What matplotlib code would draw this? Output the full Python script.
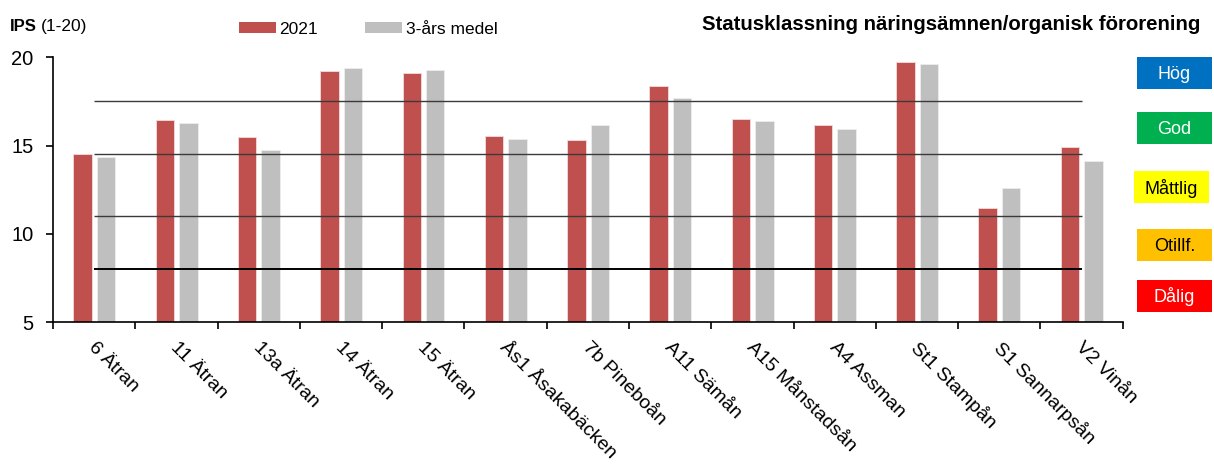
import matplotlib
matplotlib.use("Agg")
import matplotlib.pyplot as plt
import matplotlib.transforms as mtransforms
from matplotlib.patches import Rectangle
import numpy as np

plt.rcParams['font.family'] = ['Liberation Sans', 'DejaVu Sans']

# Sites and IPS values
sites = ["6 Ätran", "11 Ätran", "13a Ätran", "14 Ätran", "15 Ätran",
         "Ås1 Åsakabäcken", "7b Pineboån", "A11 Sämån", "A15 Månstadsån",
         "A4 Assman", "St1 Stampån", "S1 Sannarpsån", "V2 Vinån"]
ips_2021 = [14.5, 16.45, 15.47, 19.2, 19.09, 15.53, 15.34, 18.39, 16.5,
            16.15, 19.75, 11.45, 14.94]
ips_3yr = [14.35, 16.26, 14.73, 19.41, 19.26, 15.36, 16.15, 17.69, 16.39,
           15.96, 19.6, 12.62, 14.11]
series_labels = ["2021", "3-års medel"]

# Class boundaries (IPS)
class_limits = [17.5, 14.5, 11.0, 8.0]
class_names = ["Hög", "God", "Måttlig", "Otillf.", "Dålig"]
class_colors = ["#0070C0", "#00B050", "#FFFF00", "#FFC000", "#FF0000"]
class_text_colors = ["white", "white", "black", "black", "white"]

yticks = [5, 10, 15, 20]

W, H = 1214, 465
fig = plt.figure(figsize=(W / 100, H / 100), dpi=100)
ax = fig.add_axes([53 / W, 1 - 322.3 / H, (1122.7 - 53) / W, (322.3 - 57.3) / H])

red = "#C0504D"
grey = "#BFBFBF"
x = np.arange(len(sites))
bw = 0.225
ax.bar(x - 0.14, ips_2021, width=bw, color=red, edgecolor="#F2DCDB",
       linewidth=0.6, zorder=2)
ax.bar(x + 0.145, ips_3yr, width=bw, color=grey, edgecolor="#EDEDED",
       linewidth=0.6, zorder=2)

# Class boundary lines
for lim in class_limits:
    lw = 1.4 if lim == 8.0 else 1.0
    col = "black" if lim == 8.0 else "#3a3a3a"
    ax.hlines(lim, 0, len(sites) - 1, color=col, linewidth=lw, zorder=3)

ax.set_xlim(-0.5, len(sites) - 0.5)
ax.set_ylim(5, 20)
ax.set_yticks(yticks)
ax.set_yticklabels([str(t) for t in yticks], fontsize=14.5)
ax.set_xticks(np.arange(len(sites) + 1) - 0.5)
ax.set_xticklabels([])
ax.tick_params(axis="both", direction="out", length=5, width=1.2, color="black")
ax.tick_params(axis="y", pad=9)
for side in ("top", "right"):
    ax.spines[side].set_visible(False)
for side in ("left", "bottom"):
    ax.spines[side].set_linewidth(1.2)
    ax.spines[side].set_color("black")

# Rotated site labels
base = mtransforms.blended_transform_factory(ax.transData, ax.transAxes)
offs = mtransforms.ScaledTranslation(-3 / 100, -23 / 100, fig.dpi_scale_trans)
for xi, name in zip(x, sites):
    ax.text(xi, 0, name, transform=base + offs, rotation=-45,
            rotation_mode="anchor", ha="left", va="center", fontsize=14)

# Header texts
fig.text(10 / W, 1 - 31 / H, "IPS", fontsize=12, fontweight="bold",
         ha="left", va="baseline")
fig.text(40.7 / W, 1 - 31 / H, "(1-20)", fontsize=12.5, ha="left",
         va="baseline")
fig.text(1200 / W, 1 - 30 / H, "Statusklassning näringsämnen/organisk förorening",
         fontsize=14.7, fontweight="bold", ha="right", va="baseline")

# Legend
leg_items = [(238.7, red, series_labels[0]), (365, grey, series_labels[1])]
for lx, col, lab in leg_items:
    fig.add_artist(Rectangle((lx / W, 1 - 33 / H), 37 / W, 11 / H,
                             transform=fig.transFigure, facecolor=col,
                             edgecolor="none"))
    fig.text((lx + 40.5) / W, 1 - 34.3 / H, lab, fontsize=12.5, ha="left",
             va="baseline")

# Status class boxes
boxes = [(1137, 56.7), (1137, 111.7), (1134, 171), (1137, 228.7), (1137, 280)]
for (bx, by), name, col, tcol in zip(boxes, class_names, class_colors,
                                     class_text_colors):
    fig.add_artist(Rectangle((bx / W, 1 - (by + 32) / H), 75 / W, 32 / H,
                             transform=fig.transFigure, facecolor=col,
                             edgecolor="none"))
    fig.text((bx + 37.5) / W, 1 - (by + 22.5) / H, name, fontsize=13,
             color=tcol, ha="center", va="baseline")

fig.savefig("out.png", dpi=100)
